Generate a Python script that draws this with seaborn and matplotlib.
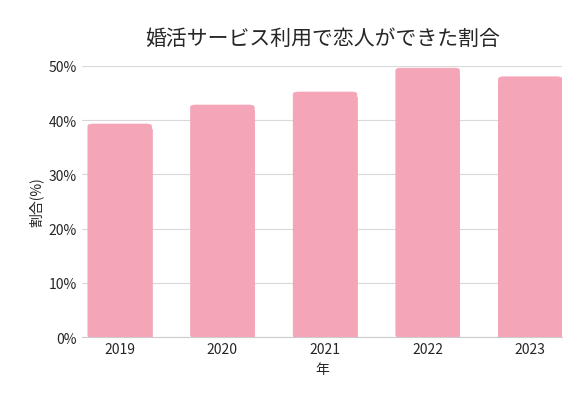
import matplotlib
matplotlib.use("Agg")
import matplotlib.pyplot as plt
import seaborn as sns
import pandas as pd
from matplotlib.patches import FancyBboxPatch

years = ["2019", "2020", "2021", "2022", "2023"]
rates = [39.3, 42.8, 45.2, 49.6, 48.0]
yticks = [0, 10, 20, 30, 40, 50]

sns.set_style("white")
plt.rcParams['font.family'] = ['Noto Sans CJK JP', 'DejaVu Sans']

C = "#F4A5B7"
df = pd.DataFrame({"year": years, "rate": rates})
fig = plt.figure(figsize=(5.88, 4.06), dpi=100)
ax = fig.add_axes([0.139, 0.167, 0.817, 0.668])
sns.barplot(data=df, x="year", y="rate", color=C, width=0.62, ax=ax, saturation=1, zorder=3)
for p in list(ax.patches):
    x, y, w, h = p.get_x(), p.get_y(), p.get_width(), p.get_height()
    p.remove()
    ax.add_patch(FancyBboxPatch((x, y), w, h, boxstyle="round,pad=0,rounding_size=0.05",
                                mutation_aspect=8, fc=C, ec=C, lw=0.5, zorder=3))
    ax.add_patch(plt.Rectangle((x, y), w, h - 1.0, fc=C, ec=C, lw=0.5, zorder=3))
ax.set_ylim(0, 50)
ax.set_xlim(-0.37, 4.31)
ax.set_yticks(yticks)
ax.set_yticklabels([f"{t}%" for t in yticks], fontsize=10)
ax.tick_params(axis="x", labelsize=10, length=0)
ax.tick_params(axis="y", length=0)
ax.yaxis.grid(True, color="#d9d9d9", lw=0.8, zorder=0)
ax.set_axisbelow(True)
for s in ["top", "right", "left"]:
    ax.spines[s].set_visible(False)
ax.spines["bottom"].set_color("#cccccc")
ax.set_xlabel("年", fontsize=10)
ax.set_ylabel("割合(%)", fontsize=10)
fig.text(0.548, 0.905, "婚活サービス利用で恋人ができた割合", ha="center", va="center", fontsize=15)
fig.savefig("out.png", dpi=100)
